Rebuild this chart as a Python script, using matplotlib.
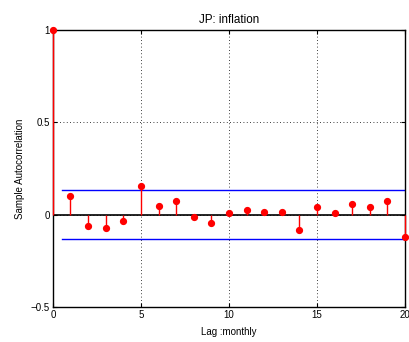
import numpy as np
import matplotlib.pyplot as plt

plt.rcParams['font.family'] = ['Liberation Sans', 'DejaVu Sans']
plt.rcParams['font.size'] = 7

# sample autocorrelation of monthly inflation, lags 0..20
lags = np.arange(0, 21)
acf = [1.0, 0.100, -0.062, -0.072, -0.036, 0.155, 0.050, 0.072, -0.011, -0.043,
       0.011, 0.025, 0.016, 0.016, -0.080, 0.041, 0.008, 0.061, 0.041, 0.077,
       -0.119]
bound = 0.133

fig = plt.figure(figsize=(4.10, 3.42), dpi=100)
ax = fig.add_axes([0.129, 0.102, 0.859, 0.810])

# stems
ml, sl, bl = ax.stem(lags, acf, basefmt='k-')
plt.setp(sl, color='red', linewidth=1.0, zorder=4, clip_on=False)
plt.setp(ml, color='red', markersize=4.2, markeredgecolor='red', zorder=5)
plt.setp(bl, color='black', linewidth=1.2, zorder=3)
ml.set_clip_on(False)

# confidence bounds
ax.plot([0.5, 20], [bound, bound], color='blue', linewidth=1.0)
ax.plot([0.5, 20], [-bound, -bound], color='blue', linewidth=1.0)

ax.set_xlim(0, 20)
ax.set_ylim(-0.5, 1)
ax.set_xticks([0, 5, 10, 15, 20])
ax.set_yticks([-0.5, 0, 0.5, 1])
ax.set_yticklabels(['\u22120.5', '0', '0.5', '1'])
ax.grid(True, linestyle=(0, (1, 3)), color='black', linewidth=0.6)
ax.tick_params(direction='in', length=3, top=True, right=True, pad=2)
for s in ax.spines.values():
    s.set_linewidth(1.0)

ax.set_title('JP: inflation', pad=5)
ax.set_xlabel('Lag :monthly', labelpad=5)
ax.set_ylabel('Sample Autocorrelation', labelpad=4)

fig.savefig('out.png', dpi=100)
